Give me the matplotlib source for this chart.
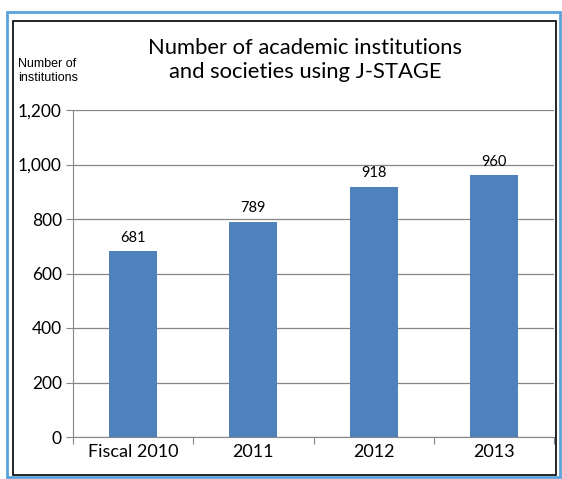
import numpy as np
import matplotlib.pyplot as plt
from matplotlib.patches import Rectangle

# Data
categories = ["Fiscal 2010", "2011", "2012", "2013"]
institutions = [681, 789, 918, 960]
y_ticks = [0, 200, 400, 600, 800, 1000, 1200]

W, H = 562, 479
fig = plt.figure(figsize=(W / 100, H / 100), dpi=100)
fig.patch.set_facecolor("white")

# Frames: light blue outer, black inner
fig.patches.append(Rectangle((7 / W, 1 - 477 / H), 553 / W, 465 / H,
                             transform=fig.transFigure, fill=False,
                             edgecolor="#5ba3dc", linewidth=2.0))
fig.patches.append(Rectangle((13 / W, 1 - 475 / H), 543 / W, 454 / H,
                             transform=fig.transFigure, fill=False,
                             edgecolor="black", linewidth=1.2))

ax = fig.add_axes([73 / W, 42 / H, 481 / W, 327 / H])
x = np.arange(len(categories)) + 0.5
ax.bar(x, institutions, width=0.4, color="#4f81bd", zorder=3)

ax.set_xlim(0, len(categories))
ax.set_ylim(0, 1200)
ax.set_yticks(y_ticks)
ax.set_yticklabels([f"{v:,}" for v in y_ticks], fontsize=12.5, family="Lato")
ax.yaxis.grid(True, color="#868686", linewidth=0.9, zorder=0)
ax.set_axisbelow(True)

# category labels centred, tick marks between categories
ax.set_xticks(np.arange(len(categories) + 1))
ax.set_xticklabels([])
ax.set_xticks(x, minor=True)
ax.set_xticklabels(categories, minor=True, fontsize=13, family="Lato")
ax.tick_params(axis="x", which="minor", length=0, pad=5)
ax.tick_params(axis="x", which="major", length=5, color="#868686")
ax.tick_params(axis="y", length=5, color="#868686", pad=3)

for side in ["top", "right"]:
    ax.spines[side].set_visible(False)
for side in ["left", "bottom"]:
    ax.spines[side].set_color("#868686")

for xi, v in zip(x, institutions):
    ax.text(xi, v + 25, str(v), ha="center", va="bottom", fontsize=10.5, family="Lato")

fig.text(305 / W, 1 - 60 / H, "Number of academic institutions\nand societies using J-STAGE",
         ha="center", va="center", fontsize=15.8, family="Lato", linespacing=1.25)
fig.text(18 / W, 1 - 71 / H, "Number of\ninstitutions", ha="left", va="center",
         fontsize=9, family="Liberation Sans", linespacing=1.15)

fig.savefig("out.png", dpi=100)
